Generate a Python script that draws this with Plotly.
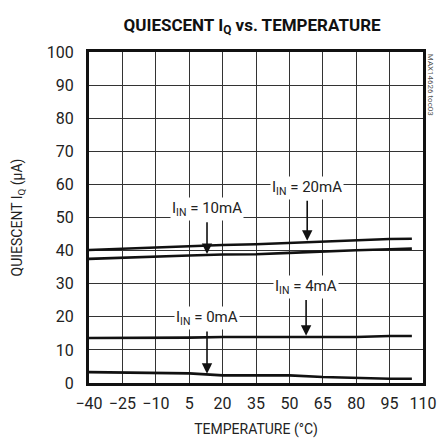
import plotly.graph_objects as go

FONT = "Roboto, Liberation Sans, sans-serif"

temps = [-40, -25, -10, 5, 20, 35, 50, 65, 80, 95, 105]
iq_20ma = [40.2, 40.6, 41.0, 41.3, 41.7, 41.9, 42.3, 42.9, 43.2, 43.5, 43.6]
iq_10ma = [37.5, 37.9, 38.2, 38.5, 38.8, 38.9, 39.3, 39.8, 40.1, 40.4, 40.6]
iq_4ma = [13.6, 13.6, 13.6, 13.7, 13.9, 13.9, 13.9, 13.9, 13.9, 14.2, 14.2]
iq_0ma = [3.3, 3.2, 2.9, 2.9, 2.3, 2.3, 2.3, 1.8, 1.5, 1.3, 1.3]

x_ticks = [-40, -25, -10, 5, 20, 35, 50, 65, 80, 95, 110]
y_ticks = [0, 10, 20, 30, 40, 50, 60, 70, 80, 90, 100]

# label text, label position (x, y), arrow tip y
labels = [
    ("I<sub>IN</sub> = 20mA", 58, 59, 43.0),
    ("I<sub>IN</sub> = 10mA", 13, 52.5, 39.0),
    ("I<sub>IN</sub> = 4mA", 57.5, 29, 14.3),
    ("I<sub>IN</sub> = 0mA", 13, 19.5, 2.8),
]

fig = go.Figure()
for ys in [iq_20ma, iq_10ma, iq_4ma, iq_0ma]:
    fig.add_scatter(x=temps, y=ys, mode="lines",
                    line=dict(color="#111111", width=2.6), showlegend=False)

for text, lx, ly, tip in labels:
    fig.add_annotation(x=lx, y=ly, text=text, showarrow=False, bgcolor="white",
                       font=dict(family=FONT, size=15, color="#222222"), borderpad=1)
    fig.add_annotation(x=lx, y=tip, ax=lx, ay=ly - 3.5, axref="x", ayref="y",
                       xref="x", yref="y", text="", showarrow=True,
                       arrowhead=2, arrowsize=1.3, arrowwidth=1.6, arrowcolor="#111111")

fig.add_annotation(x=1.005, y=1.0, xref="paper", yref="paper", text="MAX14626 toc03",
                   showarrow=False, textangle=90, xanchor="left", yanchor="top",
                   font=dict(family=FONT, size=8, color="#555555"))

# page body adds an 8px offset, so margins are shifted to compensate
fig.update_layout(
    width=447, height=443,
    margin=dict(l=81, r=32, t=44, b=68),
    plot_bgcolor="white", paper_bgcolor="white",
    font=dict(family=FONT, size=16, color="#222222"),
    title=dict(text="<b>QUIESCENT I<sub>Q</sub> vs. TEMPERATURE</b>", x=0.546, xanchor="center",
               y=0.962, yanchor="middle", font=dict(family=FONT, size=17, color="#111111")),
)
fig.update_xaxes(range=[-40, 110], tickvals=x_ticks, showgrid=True, gridcolor="#333333",
                 gridwidth=1.2, zeroline=False, showline=True, linecolor="#111111",
                 linewidth=3, mirror=True, ticks="", ticklabelstandoff=4, automargin=False,
                 title=dict(text="TEMPERATURE (°C)", font=dict(size=14), standoff=12))
fig.update_yaxes(range=[0, 100], tickvals=y_ticks, showgrid=True, gridcolor="#333333",
                 gridwidth=1.2, zeroline=False, showline=True, linecolor="#111111",
                 linewidth=3, mirror=True, ticks="", ticklabelstandoff=9, automargin=False,
                 title=dict(text="QUIESCENT I<sub>Q</sub> (µA)", font=dict(size=14), standoff=21))

fig.write_html("out.html")
